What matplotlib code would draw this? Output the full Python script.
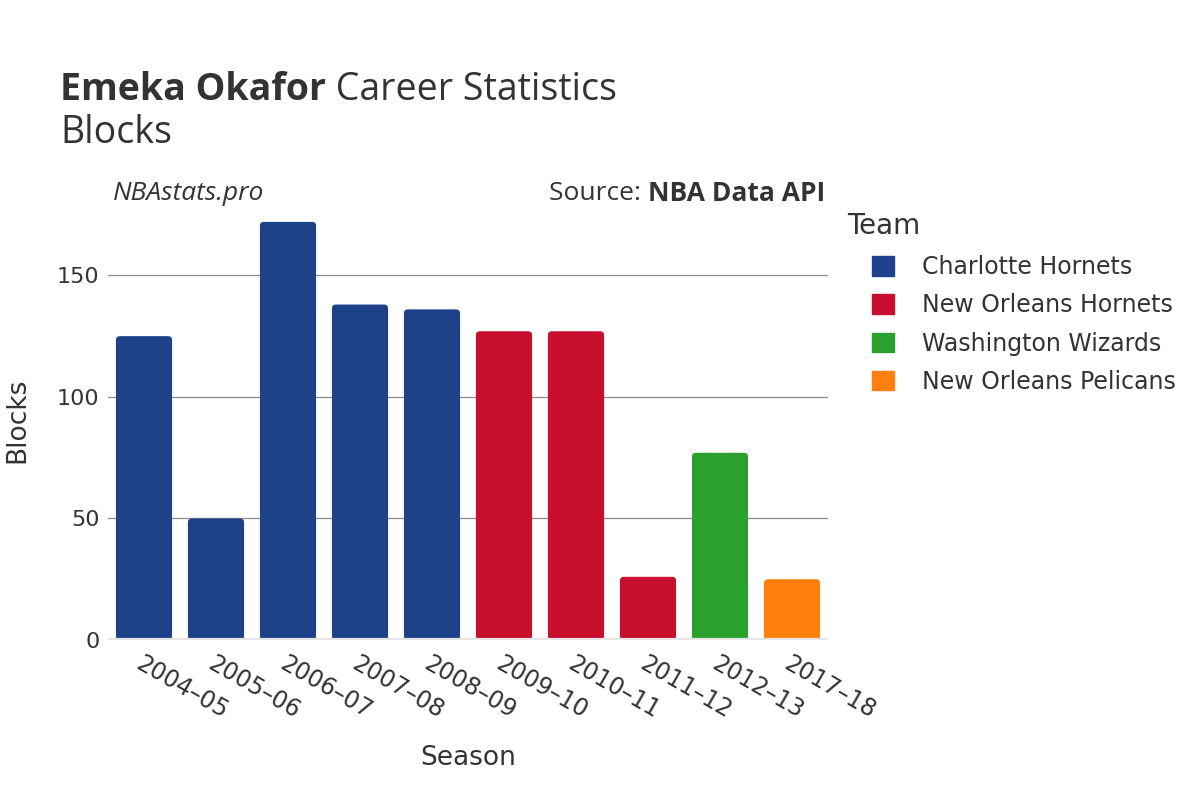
import matplotlib
matplotlib.use('Agg')
import matplotlib.pyplot as plt
from matplotlib.patches import Patch, FancyBboxPatch

seasons = ['2004–05', '2005–06', '2006–07', '2007–08', '2008–09',
           '2009–10', '2010–11', '2011–12', '2012–13', '2017–18']
blocks = [125, 50, 172, 138, 136, 127, 127, 26, 77, 25]
teams = ['Charlotte Hornets', 'Charlotte Hornets', 'Charlotte Hornets',
         'Charlotte Hornets', 'Charlotte Hornets', 'New Orleans Hornets',
         'New Orleans Hornets', 'New Orleans Hornets', 'Washington Wizards',
         'New Orleans Pelicans']
team_names = ['Charlotte Hornets', 'New Orleans Hornets',
              'Washington Wizards', 'New Orleans Pelicans']
team_colors = ['#1d428a', '#c8102e', '#2ca02c', '#ff7f0e']

color_of = dict(zip(team_names, team_colors))
txt = '#333333'

fig = plt.figure(figsize=(12, 8), dpi=100)
ax = fig.add_axes([0.09, 0.2, 0.6, 0.55])

x = list(range(len(seasons)))
bars = ax.bar(x, blocks, width=0.78, color=[color_of[t] for t in teams], zorder=3)

ax.set_xlim(-0.5, len(seasons) - 0.5)
ax.set_ylim(0, 181)

# swap plain bars for rounded ones (radius in pixels -> data units)
px_x = (len(seasons)) / 720
px_y = 181 / 440
for b in bars:
    b.set_visible(False)
    rb = FancyBboxPatch((b.get_x(), b.get_y()), b.get_width(), b.get_height(),
                        boxstyle='round,pad=0,rounding_size=%f' % (4 * px_x),
                        mutation_aspect=px_y / px_x,
                        facecolor=b.get_facecolor(), edgecolor='none', zorder=3)
    ax.add_patch(rb)

ax.set_yticks([0, 50, 100, 150])
ax.grid(axis='y', color='#8a8a8a', linewidth=0.9, zorder=0)
ax.axhline(0, color='#e6e6e6', linewidth=3, zorder=4)
for s in ax.spines.values():
    s.set_visible(False)
ax.tick_params(axis='both', length=0, labelsize=16, colors=txt)
ax.tick_params(axis='y', pad=6)
ax.set_xticks(x)
ax.set_xticklabels(seasons, rotation=-30, ha='left', rotation_mode='anchor',
                   fontsize=17)
ax.tick_params(axis='x', pad=8)

ax.set_xlabel('Season', fontsize=19, color=txt, labelpad=16)
ax.set_ylabel('Blocks', fontsize=19, color=txt, va='center')
ax.yaxis.set_label_coords(-0.126, 0.5)

t1 = fig.text(0.05, 0.887, 'Emeka Okafor', fontsize=27, fontweight='bold',
              color=txt, family='Open Sans', va='center')
fig.canvas.draw()
ax.annotate(' Career Statistics', xy=(1, 0.5), xycoords=t1, va='center',
            fontsize=27, color=txt, family='Open Sans')
fig.text(0.05, 0.834, 'Blocks', fontsize=27, color=txt,
         family='Open Sans', va='center')

fig.text(0.094, 0.758, 'NBAstats.pro', fontsize=19, style='italic',
         color=txt, family='Open Sans', va='center')
t2 = fig.text(0.6875, 0.758, 'NBA Data API', fontsize=19, fontweight='bold',
              color=txt, family='Open Sans', va='center', ha='right')
ax.annotate('Source: ', xy=(0, 0.5), xycoords=t2, va='center', ha='right',
            fontsize=19, color=txt, family='Open Sans')

fig.text(0.706, 0.7175, 'Team', fontsize=20, color=txt, va='center')
handles = [Patch(facecolor=c, edgecolor=c, label=n)
           for n, c in zip(team_names, team_colors)]
leg = fig.legend(handles=handles, loc='upper left', bbox_to_anchor=(0.727, 0.681),
                 frameon=False, fontsize=17,
                 handlelength=0.9, handleheight=0.9, handletextpad=1.2,
                 labelspacing=0.6, borderpad=0, borderaxespad=0)
for t in leg.get_texts():
    t.set_color(txt)

fig.savefig('out.png', dpi=100, facecolor='white')
